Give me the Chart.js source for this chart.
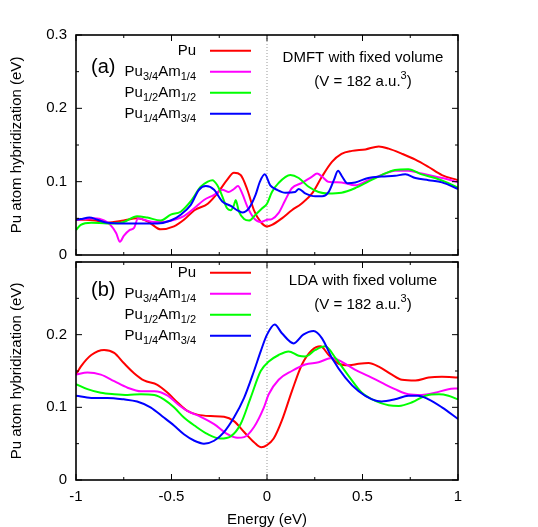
<!DOCTYPE html>
<html>
<head>
<meta charset="utf-8">
<script src="https://cdn.jsdelivr.net/npm/chart.js@4.4.1/dist/chart.umd.min.js"></script>
<style>
body { margin: 0; background: #fff; }
#wrap { position: relative; width: 538px; height: 527px; overflow: hidden; }
#wrap canvas { position: absolute; left: 0; }
</style>
</head>
<body>
<div id="wrap">
  <canvas id="dmftChart" width="538" height="280" style="top:0"></canvas>
  <canvas id="ldaChart" width="538" height="292" style="top:235px"></canvas>
</div>
<script>
// --- data ---
var seriesLabels = ['Pu', 'Pu3/4Am1/4', 'Pu1/2Am1/2', 'Pu1/4Am3/4'];
var legendParts = [['Pu'], ['Pu', '3/4', 'Am', '1/4'], ['Pu', '1/2', 'Am', '1/2'], ['Pu', '1/4', 'Am', '3/4']];
var seriesColors = ['#ff0000', '#ff00ff', '#00ff00', '#0000ff'];
var xTicks = [-1, -0.5, 0, 0.5, 1];
var yTicks = [0, 0.1, 0.2, 0.3];

// (a) DMFT with fixed volume
var dmftPuX = [-1, -0.95, -0.9, -0.836, -0.75, -0.68, -0.62, -0.557, -0.487, -0.435, -0.38, -0.31, -0.26, -0.21, -0.173, -0.138, -0.103, -0.068, -0.033, 0, 0.026, 0.078, 0.13, 0.18, 0.236, 0.288, 0.34, 0.39, 0.445, 0.515, 0.585, 0.637, 0.707, 0.777, 0.846, 0.916, 1.0];
var dmftPuY = [0.048, 0.048, 0.047, 0.044, 0.047, 0.05, 0.045, 0.035, 0.039, 0.048, 0.061, 0.07, 0.084, 0.102, 0.112, 0.109, 0.089, 0.061, 0.045, 0.039, 0.041, 0.05, 0.061, 0.07, 0.084, 0.107, 0.127, 0.138, 0.142, 0.144, 0.148, 0.145, 0.138, 0.13, 0.12, 0.109, 0.102];

var dmftPu34X = [-1, -0.958, -0.906, -0.853, -0.82, -0.79, -0.77, -0.75, -0.72, -0.696, -0.675, -0.644, -0.59, -0.54, -0.487, -0.435, -0.38, -0.33, -0.277, -0.234, -0.2, -0.173, -0.152, -0.13, -0.103, -0.068, -0.033, 0, 0.026, 0.06, 0.096, 0.13, 0.18, 0.236, 0.262, 0.288, 0.32, 0.39, 0.46, 0.53, 0.6, 0.67, 0.74, 0.81, 0.88, 0.95, 1.0];
var dmftPu34Y = [0.048, 0.049, 0.05, 0.047, 0.041, 0.03, 0.018, 0.026, 0.034, 0.037, 0.05, 0.048, 0.045, 0.045, 0.048, 0.053, 0.064, 0.075, 0.082, 0.089, 0.086, 0.09, 0.094, 0.084, 0.066, 0.05, 0.045, 0.048, 0.049, 0.057, 0.075, 0.091, 0.098, 0.107, 0.111, 0.107, 0.1, 0.099, 0.095, 0.102, 0.109, 0.115, 0.115, 0.111, 0.107, 0.103, 0.099];

var dmftPu12X = [-1, -0.975, -0.92, -0.836, -0.75, -0.68, -0.627, -0.557, -0.504, -0.452, -0.4, -0.347, -0.31, -0.286, -0.26, -0.234, -0.21, -0.19, -0.173, -0.164, -0.147, -0.12, -0.094, -0.06, -0.024, 0, 0.026, 0.06, 0.122, 0.166, 0.218, 0.27, 0.32, 0.39, 0.46, 0.53, 0.6, 0.67, 0.74, 0.81, 0.88, 0.95, 1.0];
var dmftPu12Y = [0.034, 0.041, 0.044, 0.043, 0.045, 0.053, 0.051, 0.047, 0.055, 0.059, 0.073, 0.093, 0.1, 0.102, 0.095, 0.08, 0.064, 0.061, 0.068, 0.075, 0.059, 0.049, 0.047, 0.055, 0.064, 0.07, 0.086, 0.098, 0.109, 0.105, 0.093, 0.086, 0.084, 0.085, 0.091, 0.1, 0.109, 0.116, 0.117, 0.11, 0.105, 0.098, 0.092];

var dmftPu14X = [-1, -0.975, -0.93, -0.888, -0.836, -0.75, -0.66, -0.574, -0.504, -0.452, -0.4, -0.356, -0.32, -0.277, -0.234, -0.19, -0.155, -0.13, -0.094, -0.06, -0.037, -0.012, 0.017, 0.052, 0.096, 0.148, 0.166, 0.2, 0.253, 0.288, 0.323, 0.35, 0.372, 0.393, 0.42, 0.462, 0.53, 0.6, 0.67, 0.724, 0.777, 0.846, 0.916, 1.0];
var dmftPu14Y = [0.048, 0.049, 0.051, 0.048, 0.044, 0.043, 0.043, 0.043, 0.047, 0.055, 0.068, 0.089, 0.094, 0.089, 0.073, 0.067, 0.061, 0.058, 0.064, 0.082, 0.1, 0.11, 0.095, 0.089, 0.085, 0.086, 0.09, 0.084, 0.08, 0.08, 0.086, 0.102, 0.115, 0.107, 0.098, 0.099, 0.105, 0.107, 0.108, 0.11, 0.105, 0.102, 0.099, 0.09];

// (b) LDA with fixed volume
var ldaPuX = [-1, -0.975, -0.92, -0.853, -0.8, -0.75, -0.696, -0.644, -0.574, -0.52, -0.47, -0.417, -0.365, -0.295, -0.225, -0.173, -0.12, -0.068, -0.03, 0, 0.035, 0.078, 0.13, 0.183, 0.236, 0.28, 0.323, 0.375, 0.43, 0.48, 0.532, 0.585, 0.654, 0.707, 0.777, 0.846, 0.916, 1.0];
var ldaPuY = [0.145, 0.156, 0.172, 0.179, 0.175, 0.161, 0.147, 0.137, 0.131, 0.12, 0.107, 0.095, 0.09, 0.088, 0.087, 0.081, 0.066, 0.052, 0.045, 0.048, 0.057, 0.082, 0.122, 0.159, 0.179, 0.184, 0.172, 0.16, 0.158, 0.16, 0.161, 0.156, 0.145, 0.138, 0.137, 0.141, 0.142, 0.141];

var ldaPu34X = [-1, -0.94, -0.87, -0.8, -0.73, -0.66, -0.59, -0.52, -0.47, -0.417, -0.347, -0.277, -0.207, -0.155, -0.12, -0.068, -0.016, 0.009, 0.061, 0.13, 0.2, 0.27, 0.34, 0.39, 0.46, 0.532, 0.6, 0.67, 0.74, 0.81, 0.88, 0.95, 1.0];
var ldaPu34Y = [0.145, 0.148, 0.145, 0.136, 0.127, 0.122, 0.122, 0.116, 0.105, 0.095, 0.087, 0.077, 0.063, 0.058, 0.059, 0.073, 0.1, 0.118, 0.138, 0.15, 0.159, 0.162, 0.168, 0.163, 0.152, 0.143, 0.134, 0.125, 0.118, 0.117, 0.12, 0.125, 0.126];

var ldaPu12X = [-1, -0.94, -0.87, -0.8, -0.73, -0.66, -0.59, -0.54, -0.487, -0.435, -0.38, -0.31, -0.243, -0.19, -0.138, -0.086, -0.033, 0.009, 0.061, 0.113, 0.166, 0.2, 0.253, 0.305, 0.358, 0.428, 0.497, 0.567, 0.637, 0.69, 0.76, 0.83, 0.9, 0.95, 1.0];
var ldaPu12Y = [0.132, 0.125, 0.12, 0.118, 0.117, 0.118, 0.117, 0.111, 0.1, 0.086, 0.075, 0.063, 0.057, 0.06, 0.077, 0.113, 0.15, 0.163, 0.172, 0.177, 0.171, 0.17, 0.179, 0.184, 0.168, 0.143, 0.12, 0.109, 0.103, 0.102, 0.107, 0.116, 0.118, 0.116, 0.111];

var ldaPu14X = [-1, -0.92, -0.836, -0.75, -0.68, -0.61, -0.54, -0.487, -0.435, -0.38, -0.33, -0.277, -0.225, -0.173, -0.12, -0.068, -0.033, 0, 0.04, 0.078, 0.14, 0.19, 0.244, 0.288, 0.34, 0.41, 0.48, 0.55, 0.6, 0.67, 0.74, 0.79, 0.846, 0.916, 1.0];
var ldaPu14Y = [0.116, 0.113, 0.113, 0.111, 0.108, 0.1, 0.086, 0.075, 0.063, 0.054, 0.05, 0.054, 0.066, 0.086, 0.113, 0.15, 0.177, 0.2, 0.214, 0.202, 0.188, 0.2, 0.205, 0.195, 0.168, 0.141, 0.122, 0.111, 0.108, 0.111, 0.116, 0.116, 0.111, 0.1, 0.084];

var FONT = '"Liberation Sans", Arial, sans-serif';

function toPoints(xs, ys) {
    return xs.map(function (x, i) { return { x: x, y: ys[i] }; });
}

function makeDatasets(xsList, ysList) {
    return xsList.map(function (xs, i) {
        return {
            label: seriesLabels[i],
            data: toPoints(xs, ysList[i]),
            borderColor: seriesColors[i],
            borderWidth: 2,
            pointRadius: 0,
            cubicInterpolationMode: 'monotone',
            order: 4 - i
        };
    });
}

function line(c, x1, y1, x2, y2) {
    c.beginPath();
    c.moveTo(x1, y1);
    c.lineTo(x2, y2);
    c.stroke();
}

// frame, inward ticks, zero line, legend and notes in gnuplot style
var panelPlugin = {
    id: 'panel',
    beforeDatasetsDraw: function (chart) {
        var a = chart.chartArea, c = chart.ctx;
        var x0 = chart.scales.x.getPixelForValue(0);
        c.save();
        c.strokeStyle = '#999';
        c.lineWidth = 1;
        c.setLineDash([1, 2]);
        line(c, x0, a.top, x0, a.bottom);
        c.restore();
    },
    afterDatasetsDraw: function (chart, args, opts) {
        var a = chart.chartArea, c = chart.ctx;
        var xs = chart.scales.x, ys = chart.scales.y;
        c.save();
        c.strokeStyle = '#000';
        c.lineWidth = 1;
        [-1, -0.75, -0.5, -0.25, 0, 0.25, 0.5, 0.75, 1].forEach(function (v, i) {
            var px = xs.getPixelForValue(v), len = i % 2 ? 3 : 6;
            line(c, px, a.bottom, px, a.bottom - len);
            line(c, px, a.top, px, a.top + len);
        });
        [0, 0.05, 0.1, 0.15, 0.2, 0.25, 0.3].forEach(function (v, i) {
            var py = ys.getPixelForValue(v), len = i % 2 ? 3 : 6;
            line(c, a.left, py, a.left + len, py);
            line(c, a.right, py, a.right - len, py);
        });
        c.lineWidth = 1.6;
        c.strokeRect(a.left, a.top, a.right - a.left, a.bottom - a.top);

        // legend
        c.textBaseline = 'middle';
        c.fillStyle = '#000';
        legendParts.forEach(function (parts, i) {
            var y = a.top + opts.legendTop + i * 21;
            var widths = parts.map(function (p, k) {
                c.font = (k % 2 ? '11px ' : '15px ') + FONT;
                return c.measureText(p).width;
            });
            var x = 196 - widths.reduce(function (s, w) { return s + w; }, 0);
            parts.forEach(function (p, k) {
                c.font = (k % 2 ? '11px ' : '15px ') + FONT;
                c.textAlign = 'left';
                c.fillText(p, x, k % 2 ? y + 5 : y);
                x += widths[k];
            });
            c.strokeStyle = seriesColors[i];
            c.lineWidth = 2;
            line(c, 210, y, 251, y);
        });

        // panel tag
        c.font = '20px ' + FONT;
        c.textAlign = 'left';
        c.fillText(opts.tag, 91, a.top + opts.tagTop);

        // notes
        c.font = '15px ' + FONT;
        c.textAlign = 'center';
        c.fillText(opts.note, 363, a.top + opts.noteTop);
        var vy = a.top + opts.noteTop + 24;
        c.font = '15px ' + FONT;
        var w1 = c.measureText('(V = 182 a.u.').width;
        var w3 = c.measureText(')').width;
        c.font = '11px ' + FONT;
        var w2 = c.measureText('3').width;
        var sx = 363 - (w1 + w2 + w3) / 2;
        c.textAlign = 'left';
        c.font = '15px ' + FONT;
        c.fillText('(V = 182 a.u.', sx, vy);
        c.fillText(')', sx + w1 + w2, vy);
        c.font = '11px ' + FONT;
        c.fillText('3', sx + w1, vy - 6);
        c.restore();
    }
};

function makeOptions(showX, panelOpts, hideTop) {
    return {
        responsive: false,
        animation: false,
        devicePixelRatio: 1,
        layout: { padding: { left: 0, right: 80, top: showX ? 27 : 35, bottom: showX ? 0 : 25 } },
        plugins: {
            legend: { display: false },
            tooltip: { enabled: false },
            panel: panelOpts
        },
        scales: {
            x: {
                type: 'linear',
                display: showX,
                min: -1,
                max: 1,
                grid: { display: false, drawTicks: false },
                border: { display: false },
                afterBuildTicks: function (scale) {
                    scale.ticks = xTicks.map(function (v) { return { value: v }; });
                },
                afterFit: function (scale) { if (showX) scale.height = 47; },
                ticks: {
                    color: '#000',
                    font: { family: FONT, size: 15 },
                    padding: 8,
                    maxRotation: 0,
                    callback: function (v) { return String(v); }
                },
                title: {
                    display: true,
                    text: 'Energy (eV)',
                    color: '#000',
                    font: { family: FONT, size: 15, lineHeight: 1 },
                    padding: 0
                }
            },
            y: {
                min: 0,
                max: 0.3,
                grid: { display: false, drawTicks: false },
                border: { display: false },
                afterBuildTicks: function (scale) {
                    scale.ticks = yTicks.map(function (v) { return { value: v }; });
                },
                afterFit: function (scale) { scale.width = 76; },
                ticks: {
                    color: '#000',
                    font: { family: FONT, size: 15 },
                    padding: 9,
                    callback: function (v) {
                        if (hideTop && v > 0.25) return '';
                        return String(+v.toFixed(1));
                    }
                },
                title: {
                    display: true,
                    text: 'Pu atom hybridization (eV)',
                    color: '#000',
                    font: { family: FONT, size: 15 },
                    padding: { top: 8, bottom: 0 }
                }
            }
        }
    };
}

new Chart(document.getElementById('dmftChart'), {
    type: 'line',
    data: { datasets: makeDatasets([dmftPuX, dmftPu34X, dmftPu12X, dmftPu14X], [dmftPuY, dmftPu34Y, dmftPu12Y, dmftPu14Y]) },
    options: makeOptions(false, { tag: '(a)', note: 'DMFT with fixed volume', legendTop: 15.7, tagTop: 32, noteTop: 23 }, false),
    plugins: [panelPlugin]
});

new Chart(document.getElementById('ldaChart'), {
    type: 'line',
    data: { datasets: makeDatasets([ldaPuX, ldaPu34X, ldaPu12X, ldaPu14X], [ldaPuY, ldaPu34Y, ldaPu12Y, ldaPu14Y]) },
    options: makeOptions(true, { tag: '(b)', note: 'LDA with fixed volume', legendTop: 10.7, tagTop: 28, noteTop: 19 }, true),
    plugins: [panelPlugin]
});
</script>
</body>
</html>
